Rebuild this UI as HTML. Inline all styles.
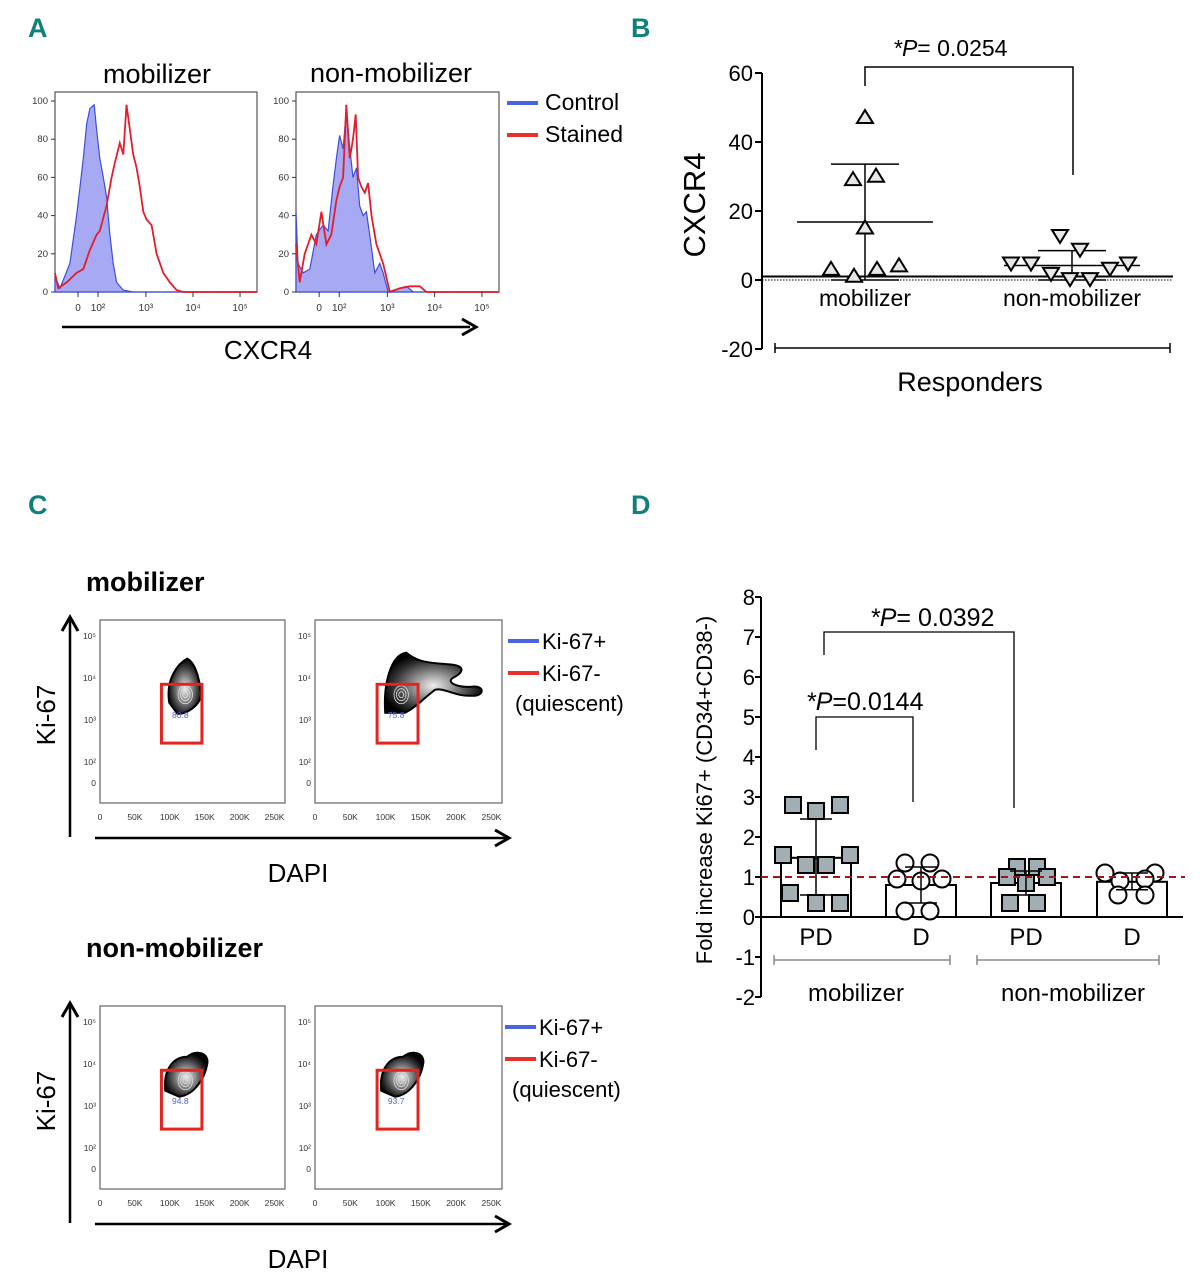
<!DOCTYPE html>
<html><head><meta charset="utf-8">
<style>
html,body{margin:0;padding:0;background:#fff;}
svg{display:block;font-family:"Liberation Sans",Arial,sans-serif;}
.pl{font-family:"Liberation Sans Narrow","Liberation Sans",sans-serif;font-weight:bold;fill:#12807a;font-size:27px;}
</style></head>
<body>
<svg id="fig" width="1203" height="1280" viewBox="0 0 1203 1280" xmlns="http://www.w3.org/2000/svg">
<defs>
<radialGradient id="blob" cx="50%" cy="55%" r="55%">
<stop offset="0" stop-color="#eee"/><stop offset="0.35" stop-color="#999"/><stop offset="0.75" stop-color="#333"/><stop offset="1" stop-color="#000"/>
</radialGradient>
</defs>
<text class="pl" x="28" y="37">A</text>
<text class="pl" x="631" y="37">B</text>
<text class="pl" x="28" y="514">C</text>
<text class="pl" x="631" y="514">D</text>

<g id="panelA">
<text x="157" y="83" font-size="27" text-anchor="middle">mobilizer</text>
<text x="391" y="82" font-size="27" text-anchor="middle">non-mobilizer</text>
<line x1="507" y1="103" x2="538" y2="103" stroke="#4a63e0" stroke-width="4"/>
<text x="545" y="110" font-size="23">Control</text>
<line x1="507" y1="135" x2="538" y2="135" stroke="#e8312a" stroke-width="4"/>
<text x="545" y="142" font-size="23">Stained</text>
<line x1="62" y1="327" x2="470" y2="327" stroke="#000" stroke-width="2.5"/>
<path d="M462,319 L476,327 L462,335" fill="none" stroke="#000" stroke-width="3"/>
<text x="268" y="359" font-size="26" text-anchor="middle">CXCR4</text>
</g>

<g id="panelB">
<text transform="translate(705,205) rotate(-90)" font-size="31" text-anchor="middle">CXCR4</text>
<text x="970" y="391" font-size="27" text-anchor="middle">Responders</text>
<line x1="775" y1="348" x2="1170" y2="348" stroke="#000" stroke-width="1.5"/>
<line x1="775" y1="343" x2="775" y2="353" stroke="#000" stroke-width="1.5"/>
<line x1="1170" y1="343" x2="1170" y2="353" stroke="#000" stroke-width="1.5"/>
<path d="M865,86 V67 H1073 V175" fill="none" stroke="#000" stroke-width="1.5"/>
<text x="893" y="56" font-size="23"><tspan font-style="italic">*P</tspan>= 0.0254</text>
</g>

<g id="panelC">
<text x="86" y="591" font-size="27" font-weight="bold">mobilizer</text>
<text x="86" y="957" font-size="27" font-weight="bold">non-mobilizer</text>
</g>

<g id="panelD">
<text transform="translate(712,790) rotate(-90)" font-size="22" text-anchor="middle">Fold increase Ki67+ (CD34+CD38-)</text>
<line x1="774" y1="960" x2="950" y2="960" stroke="#777" stroke-width="1.3"/>
<line x1="774" y1="955" x2="774" y2="965" stroke="#777" stroke-width="1.3"/>
<line x1="950" y1="955" x2="950" y2="965" stroke="#777" stroke-width="1.3"/>
<line x1="977" y1="960" x2="1159" y2="960" stroke="#777" stroke-width="1.3"/>
<line x1="977" y1="955" x2="977" y2="965" stroke="#777" stroke-width="1.3"/>
<line x1="1159" y1="955" x2="1159" y2="965" stroke="#777" stroke-width="1.3"/>
<text x="856" y="1001" font-size="24" text-anchor="middle">mobilizer</text>
<text x="1073" y="1001" font-size="24" text-anchor="middle">non-mobilizer</text>
<path d="M816,750 V717 H913 V802" fill="none" stroke="#000" stroke-width="1.3"/>
<text x="806" y="710" font-size="25"><tspan font-style="italic">*P</tspan>=0.0144</text>
<path d="M824,655 V632 H1014 V808" fill="none" stroke="#000" stroke-width="1.3"/>
<text x="870" y="626" font-size="25"><tspan font-style="italic">*P</tspan>= 0.0392</text>
</g>
</svg>

<script>
const NS = 'http://www.w3.org/2000/svg';
function mk(parent, tag, attrs, txt) {
  const e = document.createElementNS(NS, tag);
  for (const k in attrs) e.setAttribute(k, attrs[k]);
  if (txt !== undefined) e.textContent = txt;
  parent.appendChild(e);
  return e;
}

/* ---------- Panel A data (channel 0..1000, % of max) ---------- */
const histMobCtrlX = [0,25,74,107,124,140,157,173,194,206,222,239,255,272,288,305,338,387,1000];
const histMobCtrlY = [8,2,15,40,55,70,88,96,98,85,70,60,50,30,15,5,1,0,0];
const histMobStX = [0,16,58,107,140,173,206,222,255,280,297,321,338,354,371,387,404,420,437,453,478,503,536,569,602,634,1000];
const histMobStY = [10,2,5,10,12,22,30,32,45,60,68,78,72,98,85,72,65,55,42,38,35,20,10,5,1,0,0];
const histNonCtrlX = [0,10,35,68,100,133,158,182,199,215,232,248,265,281,298,314,331,347,363,388,413,429,454,512,545,578,1000];
const histNonCtrlY = [42,15,10,12,30,35,32,55,70,82,75,95,75,60,65,45,40,42,30,10,15,10,0,2,3,0,0];
const histNonStX = [0,18,43,76,100,125,150,174,199,215,232,248,265,281,294,306,322,339,355,372,396,429,462,512,561,610,643,1000];
const histNonStY = [25,5,20,30,25,42,25,30,48,55,60,98,70,80,93,60,55,52,57,40,25,15,0,2,3,3,0,0];
const histYTicks = [0,20,40,60,80,100];
const histXTickLabels = ['0','10²','10³','10⁴','10⁵'];
const histXTickCh = [114,213,450,683,916];

/* ---------- Panel B data ---------- */
const bCategories = ['mobilizer','non-mobilizer'];
const bMobValues = [47,29,30,15,3,1,3,4];
const bMobJitter = [0,-12,11,0,-34,-11,12,34];
const bNonValues = [13,9,5,5,2,0.5,0.5,3.5,5];
const bNonJitter = [-12,8,-61,-41,-21,-2,18,38,56];
const bMeans = [16.8,4.2];
const bSD = [16.8,4.3];
const bYTicks = [60,40,20,0,-20];

/* ---------- Panel C data ---------- */
const cGateValues = ['80.8','75.8','94.8','93.7'];
const cXTickLabels = ['0','50K','100K','150K','200K','250K'];
const cXTickVals = [0,50,100,150,200,250];
const cYTickLabels = ['10⁵','10⁴','10³','10²','0'];
const cYTickVals = [5,4,3,2,1.5];

/* ---------- Panel D data ---------- */
const dCategories = ['PD','D','PD','D'];
const dMeans = [1.48,0.8,0.85,0.88];
const dUpper = [2.45,1.25,1.15,1.1];
const dLower = [0.55,0.35,0.55,0.68];
const dPD1 = [2.8,2.65,2.8,1.55,1.55,1.3,1.3,0.6,0.35,0.35];
const dPD1Off = [-23,0,24,-33,34,-10,10,-26,0,24];
const dD1 = [1.35,1.35,0.95,0.9,0.95,0.15,0.15];
const dD1Off = [-16,9,-24,0,21,-16,9];
const dPD2 = [1.25,1.25,1.0,1.0,0.85,0.35,0.35];
const dPD2Off = [-9,11,-19,21,0,-16,11];
const dD2 = [1.1,1.1,0.9,0.95,0.55,0.55];
const dD2Off = [-27,23,-12,13,-14,13];
const dYTicks = [8,7,6,5,4,3,2,1,0,-1,-2];
const dRef = [1];

/* ===== Panel A ===== */
const gA = document.getElementById('panelA');
function histPlot(x0, x1, ctrlX, ctrlY, stX, stY, name) {
  const yTop = 101, yBot = 292;
  const sx = c => x0 + (c / 1000) * (x1 - x0);
  const sy = v => yBot - (v / 100) * (yBot - yTop);
  const frame = mk(gA, 'rect', {x:x0, y:92, width:x1-x0, height:yBot-92, fill:'#fff', stroke:'#555', 'stroke-width':1.2});
  
  
  let d = 'M' + sx(ctrlX[0]) + ',' + yBot;
  ctrlX.forEach((c, i) => { d += ' L' + sx(c).toFixed(1) + ',' + sy(ctrlY[i]).toFixed(1); });
  d += ' L' + sx(ctrlX[ctrlX.length-1]) + ',' + yBot + ' Z';
  const area = mk(gA, 'path', {d:d, fill:'#a7a9f2', stroke:'#3d4fd8', 'stroke-width':1.2});
  
  
  let d2 = '';
  stX.forEach((c, i) => { d2 += (i ? ' L' : 'M') + sx(c).toFixed(1) + ',' + sy(stY[i]).toFixed(1); });
  const line = mk(gA, 'path', {d:d2, fill:'none', stroke:'#e51d2a', 'stroke-width':1.8});
  
  
  histYTicks.forEach(v => {
    const t = mk(gA, 'text', {x:x0-7, y:sy(v)+3, 'font-size':9.5, 'text-anchor':'end', fill:'#333'}, String(v));
    
    
    mk(gA, 'line', {x1:x0-4, y1:sy(v), x2:x0, y2:sy(v), stroke:'#333', 'stroke-width':1});
  });
  histXTickLabels.forEach((lab, i) => {
    const t = mk(gA, 'text', {x:sx(histXTickCh[i]), y:311, 'font-size':10, 'text-anchor':'middle', fill:'#333'}, lab);
    
    
    mk(gA, 'line', {x1:sx(histXTickCh[i]), y1:yBot, x2:sx(histXTickCh[i]), y2:yBot+5, stroke:'#333', 'stroke-width':1});
  });
}
histPlot(55, 257, histMobCtrlX, histMobCtrlY, histMobStX, histMobStY, 'mobilizer');
histPlot(296, 499, histNonCtrlX, histNonCtrlY, histNonStX, histNonStY, 'non-mobilizer');

/* ===== Panel B ===== */
const gB = document.getElementById('panelB');
const bAx = 762;
const byS = v => 280 - v * (207 / 60);
const bCatX = [865, 1072];
const bAxis = mk(gB, 'line', {x1:bAx, y1:byS(60), x2:bAx, y2:byS(-20), stroke:'#000', 'stroke-width':2});


bYTicks.forEach(v => {
  mk(gB, 'line', {x1:bAx-7, y1:byS(v), x2:bAx, y2:byS(v), stroke:'#000', 'stroke-width':2});
  const t = mk(gB, 'text', {x:bAx-9, y:byS(v)+8, 'font-size':22, 'text-anchor':'end'}, String(v));
  
  
});
const base = mk(gB, 'line', {x1:bAx, y1:byS(1), x2:1173, y2:byS(1), stroke:'#000', 'stroke-width':2});


const zl = mk(gB, 'line', {x1:bAx, y1:byS(0), x2:1173, y2:byS(0), stroke:'#000', 'stroke-width':1, 'stroke-dasharray':'1.5,1.5'});


bCategories.forEach((c, i) => {
  const t = mk(gB, 'text', {x:bCatX[i], y:306, 'font-size':23, 'text-anchor':'middle'}, c);
  
  
});
function tri(cx, v, up, name) {
  const cy = byS(v), h = 13, w = 8;
  const d = up ? `M${cx},${cy-h*0.6} L${cx+w},${cy+h*0.4} L${cx-w},${cy+h*0.4} Z`
               : `M${cx},${cy+h*0.6} L${cx+w},${cy-h*0.4} L${cx-w},${cy-h*0.4} Z`;
  const p = mk(gB, 'path', {d:d, fill:'#e4e8ea', stroke:'#000', 'stroke-width':2});
  
  
}
[[bMobValues, bMobJitter, true], [bNonValues, bNonJitter, false]].forEach((s, gi) => {
  const cx = bCatX[gi];
  const m = bMeans[gi], sd = bSD[gi];
  const mw = 68, ew = 34;
  const ml = mk(gB, 'line', {x1:cx-mw, y1:byS(m), x2:cx+mw, y2:byS(m), stroke:'#000', 'stroke-width':1.5});
  
  
  const el = mk(gB, 'line', {x1:cx, y1:byS(m+sd), x2:cx, y2:byS(Math.max(m-sd,0)), stroke:'#000', 'stroke-width':1.5});
  
  
  mk(gB, 'line', {x1:cx-ew, y1:byS(m+sd), x2:cx+ew, y2:byS(m+sd), stroke:'#000', 'stroke-width':1.5});
  mk(gB, 'line', {x1:cx-ew, y1:byS(Math.max(m-sd,0)), x2:cx+ew, y2:byS(Math.max(m-sd,0)), stroke:'#000', 'stroke-width':1.5});
  s[0].forEach((v, i) => tri(cx + s[1][i], v, s[2], gi === 0 ? 'point-mobilizer' : 'point-non-mobilizer'));
});

/* ===== Panel C ===== */
const gC = document.getElementById('panelC');
function flowPlot(x0, x1, yT, yB, gate, blobKind, lbl, name) {
  const fr = mk(gC, 'rect', {x:x0, y:yT, width:x1-x0, height:yB-yT, fill:'#fff', stroke:'#555', 'stroke-width':1.1});
  
  
  const sx = k => x0 + (k / 265) * (x1 - x0);
  const sy = dec => yT + 16 + (5 - dec) * 42;
  cXTickLabels.forEach((l, i) => {
    const t = mk(gC, 'text', {x:sx(cXTickVals[i]), y:yB+17, 'font-size':8.5, 'text-anchor':'middle', fill:'#333'}, l);
    
    
  });
  cYTickLabels.forEach((l, i) => {
    const t = mk(gC, 'text', {x:x0-4, y:sy(cYTickVals[i])+3, 'font-size':8.5, 'text-anchor':'end', fill:'#333'}, l);
    
    
  });
  const bx = sx(125), by = sy(3.65);
  let bd;
  if (blobKind === 0) bd = `M${bx-18},${by+10} C${bx-22},${by-15} ${bx-8},${by-30} ${bx},${by-34} C${bx+8},${by-30} ${bx+12},${by-15} ${bx+14},${by+2} C${bx+12},${by+14} ${bx-2},${by+22} ${bx-10},${by+21} Z`;
  else if (blobKind === 1) bd = `M${bx-18},${by+20} C${bx-20},${by-10} ${bx-12},${by-38} ${bx+3},${by-40} C${bx+15},${by-30} ${bx+25},${by-30} ${bx+50},${by-28} C${bx+62},${by-26} ${bx+60},${by-20} ${bx+50},${by-15} C${bx+42},${by-10} ${bx+55},${by-5} ${bx+68},${by-6} C${bx+82},${by-8} ${bx+82},${by+4} ${bx+68},${by+3} C${bx+52},${by+4} ${bx+42},${by-5} ${bx+32},${by-3} C${bx+22},${by+4} ${bx+14},${by+14} ${bx+2},${by+20} Z`;
  else bd = `M${bx-22},${by+12} C${bx-24},${by-8} ${bx-15},${by-22} ${bx},${by-22} C${bx+10},${by-30} ${bx+22},${by-25} ${bx+20},${by-15} C${bx+18},${by-2} ${bx+8},${by+16} ${bx-8},${by+18} Z`;
  const b = mk(gC, 'path', {d:bd, fill:'url(#blob)', stroke:'#000', 'stroke-width':2});
  
  
  [9, 6, 3].forEach(r => mk(gC, 'ellipse', {cx:bx-2, cy:by+2, rx:r*0.8, ry:r, fill:'none', stroke:'#ddd', 'stroke-width':0.8}));
  const g = mk(gC, 'rect', {x:sx(gate[0]), y:sy(gate[3]), width:sx(gate[1])-sx(gate[0]), height:sy(gate[2])-sy(gate[3]), fill:'none', stroke:'#e3241f', 'stroke-width':3});
  
  
  const t = mk(gC, 'text', {x:sx(115), y:sy(3.05), 'font-size':8.5, 'text-anchor':'middle', fill:'#4d5fe0'}, lbl);
  
  
}
function flowRow(dy, vals, kinds, lx) {
  flowPlot(100, 285, 620 + dy, 803 + dy, [88,146,2.45,3.85], kinds[0], vals[0], 'flow-plot-left');
  flowPlot(315, 502, 620 + dy, 803 + dy, [88,146,2.45,3.85], kinds[1], vals[1], 'flow-plot-right');
  const va = mk(gC, 'line', {x1:70, y1:837 + dy, x2:70, y2:619 + dy, stroke:'#000', 'stroke-width':2.5});
  
  
  mk(gC, 'path', {d:`M62,${631+dy} L70,${617+dy} L78,${631+dy}`, fill:'none', stroke:'#000', 'stroke-width':3});
  const ha = mk(gC, 'line', {x1:95, y1:838 + dy, x2:506, y2:838 + dy, stroke:'#000', 'stroke-width':2.5});
  
  
  mk(gC, 'path', {d:`M495,${830+dy} L509,${838+dy} L495,${846+dy}`, fill:'none', stroke:'#000', 'stroke-width':3});
  const yt = mk(gC, 'text', {transform:`translate(55,${715+dy}) rotate(-90)`, 'font-size':26, 'text-anchor':'middle'}, 'Ki-67');
  
  
  const xt = mk(gC, 'text', {x:298, y:882 + dy, 'font-size':26, 'text-anchor':'middle'}, 'DAPI');
  
  
  mk(gC, 'line', {x1:lx, y1:641+dy, x2:lx+31, y2:641+dy, stroke:'#4a63e0', 'stroke-width':4});
  const l1 = mk(gC, 'text', {x:lx+34, y:649+dy, 'font-size':22}, 'Ki-67+');
  
  
  mk(gC, 'line', {x1:lx, y1:673+dy, x2:lx+31, y2:673+dy, stroke:'#e8312a', 'stroke-width':4});
  const l2 = mk(gC, 'text', {x:lx+34, y:681+dy, 'font-size':22}, 'Ki-67-');
  
  
  const l3 = mk(gC, 'text', {x:lx+7, y:711+dy, 'font-size':22}, '(quiescent)');
  
  
}
flowRow(0, [cGateValues[0], cGateValues[1]], [0, 1], 508);
flowRow(386, [cGateValues[2], cGateValues[3]], [2, 2], 505);

/* ===== Panel D ===== */
const gD = document.getElementById('panelD');
const dAx = 761;
const dyS = v => 917 - v * 40;
const dCatX = [816, 921, 1026, 1132];
const dAxis = mk(gD, 'line', {x1:dAx, y1:dyS(8), x2:dAx, y2:dyS(-2), stroke:'#000', 'stroke-width':2});


dYTicks.forEach(v => {
  mk(gD, 'line', {x1:dAx-6, y1:dyS(v), x2:dAx, y2:dyS(v), stroke:'#000', 'stroke-width':2});
  const t = mk(gD, 'text', {x:dAx-6, y:dyS(v)+8, 'font-size':22, 'text-anchor':'end'}, String(v));
  
  
});
dCategories.forEach((c, i) => {
  const cx = dCatX[i];
  const bar = mk(gD, 'rect', {x:cx-35, y:dyS(dMeans[i]), width:70, height:dyS(0)-dyS(dMeans[i]), fill:'#fff', stroke:'#000', 'stroke-width':2});
  
  
  const t = mk(gD, 'text', {x:cx, y:945, 'font-size':24, 'text-anchor':'middle'}, c);
  
  
});
const dx = mk(gD, 'line', {x1:dAx, y1:dyS(0), x2:1183, y2:dyS(0), stroke:'#000', 'stroke-width':2});


const sets = [[dPD1, dPD1Off, 'sq'], [dD1, dD1Off, 'ci'], [dPD2, dPD2Off, 'sq'], [dD2, dD2Off, 'ci']];
sets.forEach((s, gi) => {
  const cx = dCatX[gi];
  s[0].forEach((v, i) => {
    const px = cx + s[1][i], py = dyS(v);
    let m;
    if (s[2] === 'sq') m = mk(gD, 'rect', {x:px-8, y:py-8, width:16, height:16, fill:'#a1aeb3', stroke:'#000', 'stroke-width':2});
    else m = mk(gD, 'circle', {cx:px, cy:py, r:8.5, fill:'#fff', stroke:'#000', 'stroke-width':2});
    
    
  });
  const e = mk(gD, 'line', {x1:cx, y1:dyS(dUpper[gi]), x2:cx, y2:dyS(dLower[gi]), stroke:'#000', 'stroke-width':1.5});
  
  
  mk(gD, 'line', {x1:cx-16, y1:dyS(dUpper[gi]), x2:cx+16, y2:dyS(dUpper[gi]), stroke:'#000', 'stroke-width':1.5});
  mk(gD, 'line', {x1:cx-16, y1:dyS(dLower[gi]), x2:cx+16, y2:dyS(dLower[gi]), stroke:'#000', 'stroke-width':1.5});
});
dRef.forEach(v => {
  const r = mk(gD, 'line', {x1:dAx, y1:dyS(v), x2:1185, y2:dyS(v), stroke:'#a31515', 'stroke-width':2, 'stroke-dasharray':'7,5'});
  
  
});
</script>
</body></html>
